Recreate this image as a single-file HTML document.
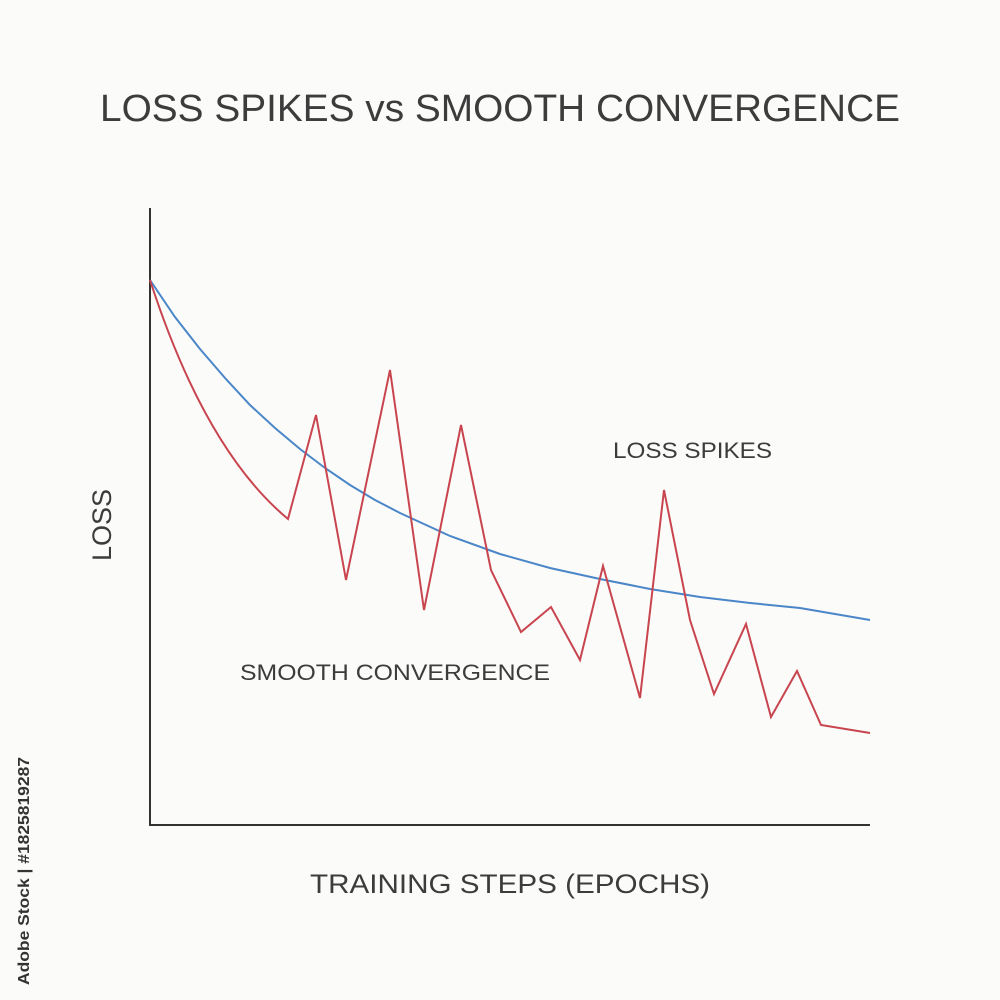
<!DOCTYPE html>
<html><head><meta charset="utf-8"><style>
html,body{margin:0;padding:0;background:#fbfbf9;}
svg{display:block;font-family:"Liberation Sans",sans-serif;}
</style></head><body>
<svg width="1000" height="1000" viewBox="0 0 1000 1000">
<rect width="1000" height="1000" fill="#fbfbf9"/>
<text x="100" y="121" textLength="800" lengthAdjust="spacingAndGlyphs" font-size="38" fill="#3c3c3c">LOSS SPIKES vs SMOOTH CONVERGENCE</text>
<line x1="150" y1="208" x2="150" y2="826" stroke="#333" stroke-width="2"/>
<line x1="149" y1="825" x2="870" y2="825" stroke="#333" stroke-width="2"/>
<polyline fill="none" stroke="#4a86c8" stroke-width="2" points="150,280 175,317 200,349 225,378 250,405 275,428 300,449 325,468 350,485 375,500 400,513 450,536 500,554 550,568 600,579 650,589 700,597 750,603 800,608 870,620"/>
<path fill="none" stroke="#c8454f" stroke-width="2" stroke-linejoin="miter" d="M150,280 Q205,450 288,519 L316,415 L346,580 L390,370 L424,610 L461,425 L491,570 L521,632 L551,607 L580,660 L603,566 L640,698 L664,490 L690,620 L714,694 L746,624 L771,717 L797,671 L821,725 L870,733"/>
<text x="613" y="458" textLength="159" lengthAdjust="spacingAndGlyphs" font-size="22" fill="#3c3c3c">LOSS SPIKES</text>
<text x="240" y="680" textLength="310" lengthAdjust="spacingAndGlyphs" font-size="22" fill="#3c3c3c">SMOOTH CONVERGENCE</text>
<text x="310" y="893" textLength="400" lengthAdjust="spacingAndGlyphs" font-size="27" fill="#3c3c3c">TRAINING STEPS (EPOCHS)</text>
<text transform="translate(111,525) rotate(-90)" text-anchor="middle" font-size="27" fill="#3c3c3c">LOSS</text>
<text transform="translate(29,985) rotate(-90)" textLength="228" lengthAdjust="spacingAndGlyphs" font-size="16" font-weight="bold" fill="#333">Adobe Stock | #1825819287</text>
</svg>
</body></html>
